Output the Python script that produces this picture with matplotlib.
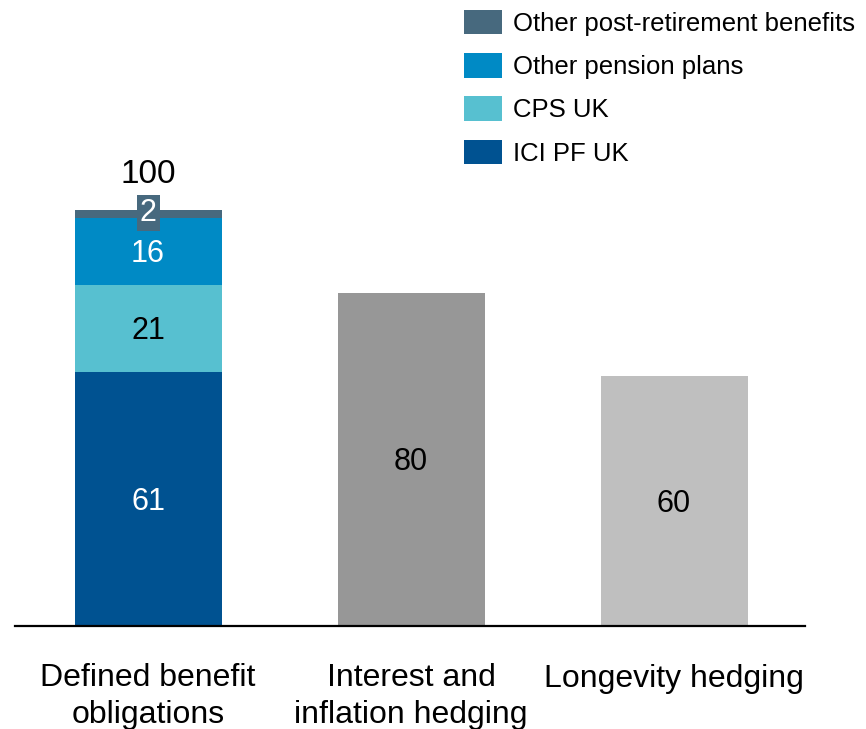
import matplotlib
matplotlib.use("Agg")
import matplotlib.pyplot as plt
from matplotlib.patches import Patch

plt.rcParams['font.family'] = ['Liberation Sans', 'DejaVu Sans']

categories = ["Defined benefit\nobligations", "Interest and\ninflation hedging", "Longevity hedging"]
segment_names = ["ICI PF UK", "CPS UK", "Other pension plans", "Other post-retirement benefits"]
segment_values = [61, 21, 16, 2]
segment_colors = ["#005291", "#57C0D0", "#008AC5", "#47697E"]
segment_text_colors = ["white", "black", "white", "white"]
hedge_values = [80, 60]
hedge_colors = ["#979797", "#BFBFBF"]
total_label = "100"

fig = plt.figure(figsize=(8.66, 7.29), dpi=100)
ax = fig.add_axes([15/866, 1-626/729, 790/866, 626/729])

width = 0.559
x = [0, 1, 2]
dy = -0.6
bottom = 0
for name, val, col, tc in zip(segment_names, segment_values, segment_colors, segment_text_colors):
    ax.bar(x[0], val, width, bottom=bottom, color=col, label=name)
    if val >= 5:
        ax.text(x[0], bottom + val/2 + dy, str(val), ha='center', va='center', fontsize=22, color=tc)
    else:
        ax.text(x[0], bottom + val/2 + 0.3, str(val), ha='center', va='center', fontsize=22, color=tc,
                bbox=dict(boxstyle='square,pad=0.1', facecolor=col, edgecolor='none'))
    bottom += val
ax.text(x[0], bottom + 8.4, total_label, ha='center', va='center', fontsize=24, color='black')

for xi, val, col in zip(x[1:], hedge_values, hedge_colors):
    ax.bar(xi, val, width, color=col)
    ax.text(xi, val/2 + dy, str(val), ha='center', va='center', fontsize=22, color='black')

ax.set_xlim(-0.506, 2.498)
ax.set_ylim(0, 150.4)
for s in ['top', 'right', 'left']:
    ax.spines[s].set_visible(False)
ax.spines['bottom'].set_linewidth(1.6)
ax.spines['bottom'].set_color('black')
ax.set_yticks([])
ax.set_xticks(x)
ax.set_xticklabels(categories, fontsize=23, linespacing=1.3)
ax.tick_params(axis='x', length=0, pad=27)

handles = [Patch(facecolor=c, edgecolor='none') for c in segment_colors][::-1]
labels = segment_names[::-1]
fig.legend(handles, labels, loc='upper left', bbox_to_anchor=(464/866, 1-10/729),
           frameon=False, fontsize=18.5, borderpad=0, borderaxespad=0,
           handlelength=1.48, handleheight=1.09, handletextpad=0.43, labelspacing=0.67)

fig.savefig("out.png", dpi=100)
